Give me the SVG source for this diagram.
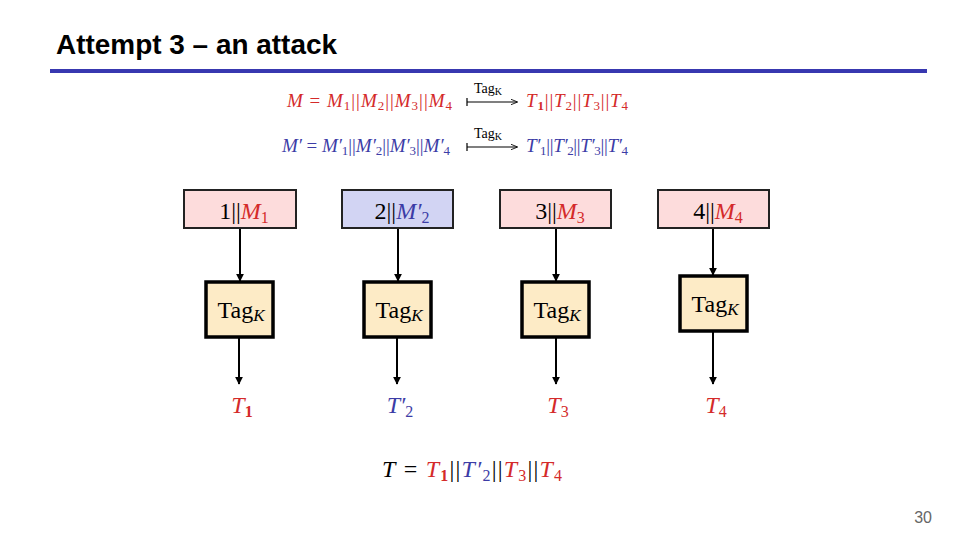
<svg xmlns="http://www.w3.org/2000/svg" width="960" height="540" viewBox="0 0 960 540">
<defs>
<style>
.title{font-family:"Liberation Sans",Arial,sans-serif;font-weight:bold;font-size:27px;fill:#000}
.m{font-family:"Liberation Serif","DejaVu Serif",serif;fill:#000}
.i{font-style:italic}
.r{fill:#d42a2a}
.b{fill:#3c3ca6}
.in{fill:#fddcdc;stroke:#222;stroke-width:2}
.inb{fill:#d2d4f3;stroke:#222;stroke-width:2}
.tag{fill:#fdebc6;stroke:#000;stroke-width:3.5}
.con{stroke:#000;stroke-width:2;fill:none}
.map{stroke:#000;stroke-width:1.2;fill:none}
</style>
<marker id="ah" viewBox="0 0 10 10" refX="9" refY="5" markerWidth="4" markerHeight="4" orient="auto" markerUnits="strokeWidth">
<path d="M0,0 L10,5 L0,10 z" fill="#000"/>
</marker>
<marker id="ah2" viewBox="0 0 10 10" refX="9" refY="5" markerWidth="6" markerHeight="6" orient="auto" markerUnits="strokeWidth">
<path d="M0,1 L10,5 L0,9" fill="none" stroke="#000" stroke-width="1.2"/>
</marker>
</defs>
<rect width="960" height="540" fill="#fff"/>
<text class="title" x="56" y="54" textLength="281" lengthAdjust="spacingAndGlyphs">Attempt 3 – an attack</text>
<rect x="50" y="69" width="877" height="4" fill="#3838b0"/>

<g id="eq1" class="m" font-size="19">
<text x="287" y="107" class="r" textLength="165" lengthAdjust="spacing"><tspan class="i">M</tspan> = <tspan class="i">M</tspan><tspan font-size="13" dy="3">1</tspan><tspan dy="-3">||</tspan><tspan class="i">M</tspan><tspan font-size="13" dy="3">2</tspan><tspan dy="-3">||</tspan><tspan class="i">M</tspan><tspan font-size="13" dy="3">3</tspan><tspan dy="-3">||</tspan><tspan class="i">M</tspan><tspan font-size="13" dy="3">4</tspan></text>
<text x="474" y="93" font-size="14">Tag<tspan font-size="10" dy="2">K</tspan></text>
<path class="map" d="M467,98 V106 M467,102 H517" marker-end="url(#ah2)"/>
<text x="526" y="107" class="r" textLength="102" lengthAdjust="spacing"><tspan class="i">T</tspan><tspan font-size="13" dy="3" font-weight="bold">1</tspan><tspan dy="-3">||</tspan><tspan class="i">T</tspan><tspan font-size="13" dy="3">2</tspan><tspan dy="-3">||</tspan><tspan class="i">T</tspan><tspan font-size="13" dy="3">3</tspan><tspan dy="-3">||</tspan><tspan class="i">T</tspan><tspan font-size="13" dy="3">4</tspan></text>
</g>

<g id="eq2" class="m" font-size="19">
<text x="282" y="152" class="b" textLength="168" lengthAdjust="spacing"><tspan class="i">M′</tspan> = <tspan class="i">M′</tspan><tspan font-size="13" dy="3">1</tspan><tspan dy="-3">||</tspan><tspan class="i">M′</tspan><tspan font-size="13" dy="3">2</tspan><tspan dy="-3">||</tspan><tspan class="i">M′</tspan><tspan font-size="13" dy="3">3</tspan><tspan dy="-3">||</tspan><tspan class="i">M′</tspan><tspan font-size="13" dy="3">4</tspan></text>
<text x="474" y="138" font-size="14">Tag<tspan font-size="10" dy="2">K</tspan></text>
<path class="map" d="M467,143 V151 M467,147 H517" marker-end="url(#ah2)"/>
<text x="526" y="152" class="b" textLength="102" lengthAdjust="spacing"><tspan class="i">T′</tspan><tspan font-size="13" dy="3">1</tspan><tspan dy="-3">||</tspan><tspan class="i">T′</tspan><tspan font-size="13" dy="3">2</tspan><tspan dy="-3">||</tspan><tspan class="i">T′</tspan><tspan font-size="13" dy="3">3</tspan><tspan dy="-3">||</tspan><tspan class="i">T′</tspan><tspan font-size="13" dy="3">4</tspan></text>
</g>

<g id="connectors">
<line class="con" x1="240" y1="228" x2="240" y2="281" marker-end="url(#ah)"/>
<line class="con" x1="398" y1="228" x2="398" y2="281" marker-end="url(#ah)"/>
<line class="con" x1="556" y1="228" x2="556" y2="281" marker-end="url(#ah)"/>
<line class="con" x1="713" y1="228" x2="713" y2="275" marker-end="url(#ah)"/>
<line class="con" x1="239" y1="338" x2="239" y2="384" marker-end="url(#ah)"/>
<line class="con" x1="397" y1="338" x2="397" y2="384" marker-end="url(#ah)"/>
<line class="con" x1="556" y1="338" x2="556" y2="384" marker-end="url(#ah)"/>
<line class="con" x1="713" y1="332" x2="713" y2="384" marker-end="url(#ah)"/>
</g>

<g id="in1">
<rect class="in" x="184" y="190" width="112" height="38"/>
<text class="m" x="244" y="219" font-size="24" text-anchor="middle">1||<tspan class="i r">M</tspan><tspan class="r" font-size="16" dy="4">1</tspan></text>
</g>
<g id="in2">
<rect class="inb" x="342" y="190" width="111" height="38"/>
<text class="m" x="402" y="219" font-size="24" text-anchor="middle">2||<tspan class="i b">M′</tspan><tspan class="b" font-size="16" dy="4">2</tspan></text>
</g>
<g id="in3">
<rect class="in" x="500" y="190" width="111" height="38"/>
<text class="m" x="560" y="219" font-size="24" text-anchor="middle">3||<tspan class="i r">M</tspan><tspan class="r" font-size="16" dy="4">3</tspan></text>
</g>
<g id="in4">
<rect class="in" x="658" y="190" width="111" height="38"/>
<text class="m" x="718" y="219" font-size="24" text-anchor="middle">4||<tspan class="i r">M</tspan><tspan class="r" font-size="16" dy="4">4</tspan></text>
</g>

<g id="tag1">
<rect class="tag" x="206" y="282" width="67" height="55"/>
<text class="m" x="241" y="318" font-size="24" text-anchor="middle">Tag<tspan class="i" font-size="17" dy="3">K</tspan></text>
</g>
<g id="tag2">
<rect class="tag" x="364" y="282" width="67" height="55"/>
<text class="m" x="399" y="318" font-size="24" text-anchor="middle">Tag<tspan class="i" font-size="17" dy="3">K</tspan></text>
</g>
<g id="tag3">
<rect class="tag" x="522" y="282" width="67" height="55"/>
<text class="m" x="557" y="318" font-size="24" text-anchor="middle">Tag<tspan class="i" font-size="17" dy="3">K</tspan></text>
</g>
<g id="tag4">
<rect class="tag" x="680" y="276" width="67" height="55"/>
<text class="m" x="715" y="312" font-size="24" text-anchor="middle">Tag<tspan class="i" font-size="17" dy="3">K</tspan></text>
</g>

<g id="out1"><text class="m r" x="242" y="413" font-size="24" text-anchor="middle"><tspan class="i">T</tspan><tspan font-size="16" dy="4" font-weight="bold">1</tspan></text></g>
<g id="out2"><text class="m b" x="400" y="413" font-size="24" text-anchor="middle"><tspan class="i">T′</tspan><tspan font-size="16" dy="4">2</tspan></text></g>
<g id="out3"><text class="m r" x="558" y="413" font-size="24" text-anchor="middle"><tspan class="i">T</tspan><tspan font-size="16" dy="4">3</tspan></text></g>
<g id="out4"><text class="m r" x="716" y="413" font-size="24" text-anchor="middle"><tspan class="i">T</tspan><tspan font-size="16" dy="4">4</tspan></text></g>

<g id="result">
<text class="m" x="382" y="477" font-size="24" textLength="180" lengthAdjust="spacing"><tspan class="i">T</tspan> = <tspan class="i r">T</tspan><tspan class="r" font-size="16" dy="4" font-weight="bold">1</tspan><tspan dy="-4">||</tspan><tspan class="i b">T′</tspan><tspan class="b" font-size="16" dy="4">2</tspan><tspan dy="-4">||</tspan><tspan class="i r">T</tspan><tspan class="r" font-size="16" dy="4">3</tspan><tspan dy="-4">||</tspan><tspan class="i r">T</tspan><tspan class="r" font-size="16" dy="4">4</tspan></text>
</g>

<text x="932" y="523" font-family="'Liberation Sans',Arial,sans-serif" font-size="16" fill="#666" text-anchor="end">30</text>
</svg>
